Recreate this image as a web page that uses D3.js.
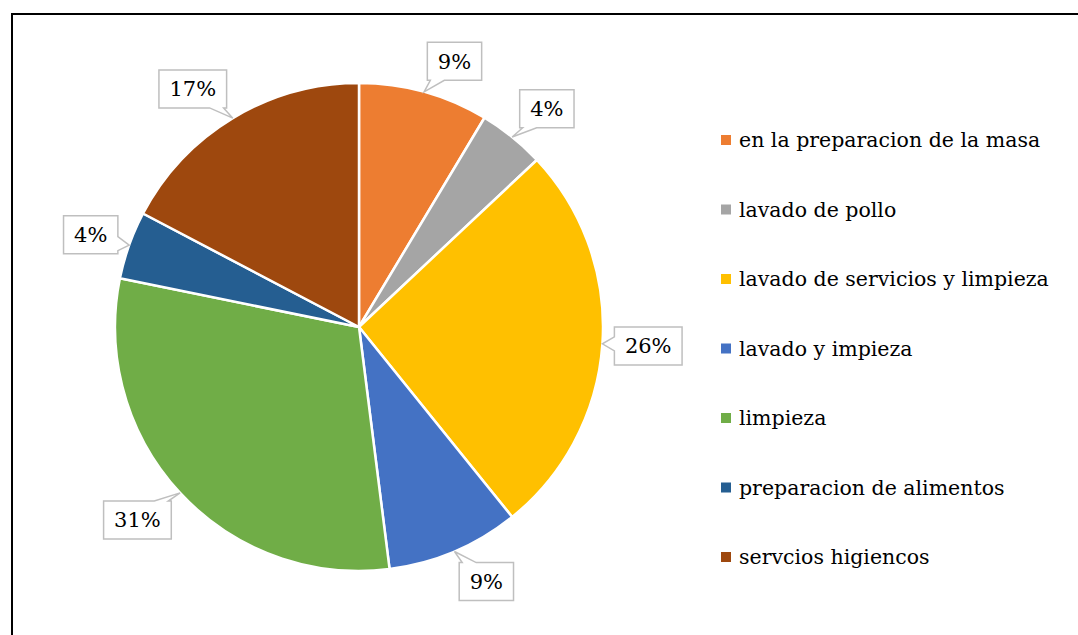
<!DOCTYPE html>
<html>
<head>
<meta charset="utf-8">
<script src="https://cdn.jsdelivr.net/npm/d3@7"></script>
<style>
  body { margin: 0; background: #fff; }
  svg { display: block; }
</style>
</head>
<body>
<svg id="chart" width="1078" height="635"></svg>
<script>
// data
const categories = ["en la preparacion de la masa", "lavado de pollo", "lavado de servicios y limpieza",
  "lavado y impieza", "limpieza", "preparacion de alimentos", "servcios higiencos"];
const values = [8.6, 4.4, 26.2, 8.8, 30.2, 4.5, 17.3];
const labels = ["9%", "4%", "26%", "9%", "31%", "4%", "17%"];
const colors = ["#ED7D31", "#A5A5A5", "#FFC000", "#4472C4", "#70AD47", "#255E91", "#9E480E"];

const FONT = "'DejaVu Serif', serif";

const svg = d3.select("#chart").attr("font-family", FONT);

// outer frame (right and bottom run off the page)
svg.append("rect")
  .attr("x", 12).attr("y", 14)
  .attr("width", 1100).attr("height", 660)
  .attr("fill", "none").attr("stroke", "#000").attr("stroke-width", 2);

const cx = 359, cy = 327, R = 244;
const data = categories.map((c, i) => ({ name: c, value: values[i], label: labels[i], color: colors[i] }));

const pie = d3.pie().value(d => d.value).sort(null);
const arcs = pie(data);
const arc = d3.arc().innerRadius(0).outerRadius(R);
const anchorArc = d3.arc().innerRadius(R + 12).outerRadius(R + 12);
const tipArc = d3.arc().innerRadius(R).outerRadius(R);

const g = svg.append("g").attr("transform", `translate(${cx},${cy})`);

g.selectAll("path.slice")
  .data(arcs)
  .enter().append("path")
  .attr("class", "slice")
  .attr("d", arc)
  .attr("fill", d => d.data.color)
  .attr("stroke", "#fff")
  .attr("stroke-width", 2.5)
  .attr("stroke-linejoin", "round");

// callout labels, box sits just outside the slice
arcs.forEach(d => {
  const a = (d.startAngle + d.endAngle) / 2;
  const s = Math.sin(a), co = Math.cos(a);
  const P = anchorArc.centroid(d);
  const tip = tipArc.centroid(d);
  const lab = g.append("g");
  const t = lab.append("text")
    .attr("text-anchor", "middle")
    .attr("dy", "0.35em")
    .attr("font-size", 21)
    .attr("fill", "#000")
    .text(d.data.label);
  const tw = t.node().getComputedTextLength();
  const w = tw + 21, h = 38;
  const cxl = P[0] + Math.sign(s) * w / 2;
  const cyl = P[1] + (Math.abs(co) < 0.5 ? -co * h / 2 : -Math.sign(co) * h / 2);
  t.attr("x", cxl).attr("y", cyl);
  const x0 = cxl - w / 2, x1 = cxl + w / 2, y0 = cyl - h / 2, y1 = cyl + h / 2;
  const dx = tip[0] - cxl, dy = tip[1] - cyl;
  const half = 7;
  const clamp = (v, lo, hi) => Math.max(lo, Math.min(hi, v));
  let p;
  if (Math.abs(dy) / (h / 2) > Math.abs(dx) / (w / 2)) {
    const m = clamp(tip[0], x0 + half + 3, x1 - half - 3);
    if (dy < 0) {
      p = `M${x0},${y0}L${m - half},${y0}L${tip[0]},${tip[1]}L${m + half},${y0}L${x1},${y0}L${x1},${y1}L${x0},${y1}Z`;
    } else {
      p = `M${x0},${y0}L${x1},${y0}L${x1},${y1}L${m + half},${y1}L${tip[0]},${tip[1]}L${m - half},${y1}L${x0},${y1}Z`;
    }
  } else {
    const m = clamp(tip[1], y0 + half + 3, y1 - half - 3);
    if (dx > 0) {
      p = `M${x0},${y0}L${x1},${y0}L${x1},${m - half}L${tip[0]},${tip[1]}L${x1},${m + half}L${x1},${y1}L${x0},${y1}Z`;
    } else {
      p = `M${x0},${y0}L${x1},${y0}L${x1},${y1}L${x0},${y1}L${x0},${m + half}L${tip[0]},${tip[1]}L${x0},${m - half}Z`;
    }
  }
  lab.insert("path", "text")
    .attr("d", p)
    .attr("fill", "#fff")
    .attr("stroke", "#BFBFBF")
    .attr("stroke-width", 1.5);
});

// legend
const legendY = d3.scalePoint().domain(categories).range([140, 557]);
const legend = svg.append("g");
const items = legend.selectAll("g")
  .data(data)
  .enter().append("g")
  .attr("transform", d => `translate(721,${legendY(d.name)})`);
items.append("rect")
  .attr("x", 0).attr("y", -5)
  .attr("width", 10).attr("height", 10)
  .attr("fill", d => d.color);
items.append("text")
  .attr("x", 18).attr("dy", "0.35em")
  .attr("font-size", 20.5)
  .attr("fill", "#000")
  .text(d => d.name);
</script>
</body>
</html>
